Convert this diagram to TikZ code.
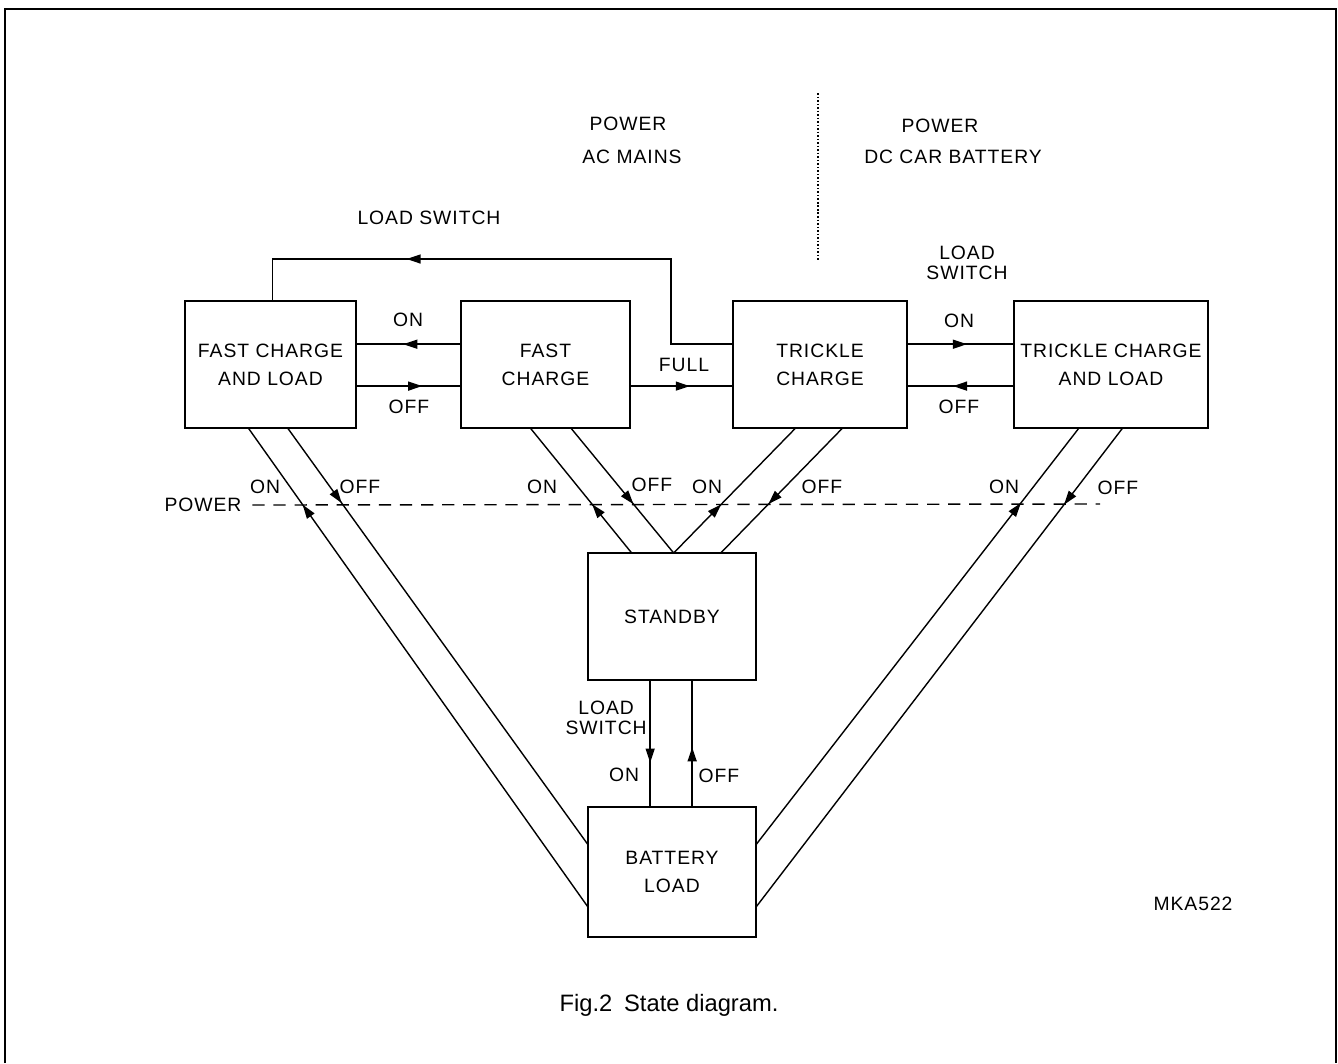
\documentclass[tikz,border=0pt]{standalone}
\usepackage{fontspec}
\setmainfont[LetterSpace=5]{Liberation Sans}
\newfontfamily\capfont{Liberation Sans}
\usetikzlibrary{arrows.meta,calc,decorations.markings}

\begin{document}
\begin{tikzpicture}[
x=0.02cm,y=-0.02cm,
font=\fontsize{11}{16}\selectfont,
state/.style={draw,line width=1.3pt,inner sep=0pt,outer sep=0pt,minimum height=2.54cm,align=center},
conn/.style={line width=.8pt},
midarrow/.style={conn,postaction={decorate},decoration={markings,mark=at position #1 with {\arrow{Triangle[length=2.8mm,width=1.8mm]}}}},
lbl/.style={inner sep=0pt}
]
\useasboundingbox (0,0) rectangle (1338,1063);
\draw[line width=1.2pt] (5,1063) -- (5,9) -- (1336,9) -- (1336,1063);

% states
\node[state,minimum width=3.42cm] (fcl) at (270.5,364.5) {FAST CHARGE\\AND LOAD};
\node[state,minimum width=3.38cm] (fc) at (545.5,364.5) {FAST\\CHARGE};
\node[state,minimum width=3.48cm] (tc) at (820,364.5) {TRICKLE\\CHARGE};
\node[state,minimum width=3.88cm] (tcl) at (1111,364.5) {TRICKLE CHARGE\\AND LOAD};
\node[state,minimum width=3.36cm] (sb) at (672,616.5) {STANDBY};
\node[state,minimum width=3.36cm,minimum height=2.6cm] (bl) at (672,872) {BATTERY\\LOAD};

% power source
\node[lbl] (acpow) at (628,124) {POWER};
\node[lbl] (acmain) at (632,157) {AC MAINS};
\node[lbl] (dcpow) at (940,126) {POWER};
\node[lbl] (dcbatt) at (953,157) {DC CAR BATTERY};
\coordinate (divtop) at (818,93);
\coordinate (divbot) at (818,260);
\draw[line width=1.3pt,dash pattern=on .9pt off 1.1pt] (divtop) -- (divbot);

% power line
\node[lbl] (pwr) at (203,505) {POWER};
\coordinate (pwrend) at (1100,504);
\draw[conn,dash pattern=on 7pt off 5pt] ([xshift=6pt]pwr.east) -- (pwrend);

% load switch
\node[lbl] (lswa) at (429,218) {LOAD SWITCH};
\draw[midarrow=.7] ($(tc.north west)!.34!(tc.south west)$) -| (671,259) -| ($(fcl.north west)!.51!(fcl.north east)$);
\draw[midarrow=.55] ($(fc.north west)!.34!(fc.south west)$) -- ($(fcl.north east)!.34!(fcl.south east)$);
\draw[midarrow=.63] ($(fcl.north east)!.67!(fcl.south east)$) -- ($(fc.north west)!.67!(fc.south west)$);
\draw[midarrow=.58] ($(fc.north east)!.67!(fc.south east)$) -- ($(tc.north west)!.67!(tc.south west)$);
\draw[midarrow=.56] ($(tc.north east)!.34!(tc.south east)$) -- ($(tcl.north west)!.34!(tcl.south west)$);
\draw[midarrow=.57] ($(tcl.north west)!.67!(tcl.south west)$) -- ($(tc.north east)!.67!(tc.south east)$);
\node[lbl] (onA) at (408,320) {ON};
\node[lbl] (offA) at (409,407) {OFF};
\node[lbl] (full) at (684,365) {FULL};
\node[lbl,align=center,font=\fontsize{11}{11.5}\selectfont] (lswb) at (967,263) {LOAD\\SWITCH};
\node[lbl] (onB) at (959,321) {ON};
\node[lbl] (offB) at (959,407) {OFF};

% power on/off
\draw[midarrow=.84] ($(bl.north west)!.77!(bl.south west)$) -- ($(fcl.south west)!.37!(fcl.south east)$);
\draw[midarrow=.18] ($(fcl.south west)!.6!(fcl.south east)$) -- ($(bl.north west)!.29!(bl.south west)$);
\draw[midarrow=.39] ($(sb.north west)!.26!(sb.north east)$) -- ($(fc.south west)!.41!(fc.south east)$);
\draw[midarrow=.61] ($(fc.south west)!.65!(fc.south east)$) -- ($(sb.north west)!.51!(sb.north east)$);
\draw[midarrow=.39] ($(sb.north west)!.51!(sb.north east)$) -- ($(tc.south west)!.36!(tc.south east)$);
\draw[midarrow=.61] ($(tc.south west)!.63!(tc.south east)$) -- ($(sb.north west)!.79!(sb.north east)$);
\draw[midarrow=.82] ($(bl.north east)!.29!(bl.south east)$) -- ($(tcl.south west)!.335!(tcl.south east)$);
\draw[midarrow=.16] ($(tcl.south west)!.56!(tcl.south east)$) -- ($(bl.north east)!.77!(bl.south east)$);
\node[lbl] (onC) at (265,487) {ON};
\node[lbl] (offC) at (360,487) {OFF};
\node[lbl] (onD) at (542,487) {ON};
\node[lbl] (offD) at (652,485) {OFF};
\node[lbl] (onE) at (707,487) {ON};
\node[lbl] (offE) at (822,487) {OFF};
\node[lbl] (onF) at (1004,487) {ON};
\node[lbl] (offF) at (1118,488) {OFF};

% standby <-> battery load
\coordinate (sbl) at ($(sb.south west)!.37!(sb.south east)$);
\coordinate (sbr) at ($(sb.south west)!.62!(sb.south east)$);
\draw[midarrow=.65] (sbl) -- (sbl |- bl.north);
\draw[midarrow=.47] (sbr |- bl.north) -- (sbr);
\node[lbl,align=center,anchor=east,font=\fontsize{11}{11.5}\selectfont] (lswc) at (647,718) {LOAD\\SWITCH};
\node[lbl] (onG) at (624,775) {ON};
\node[lbl] (offG) at (719,776) {OFF};

\node[lbl] (code) at (1193,904) {MKA522};
\node[lbl,font=\capfont\fontsize{13.5}{15}\selectfont] (cap) at (669,1005) {Fig.2\enspace State diagram.};
\end{tikzpicture}
\end{document}
